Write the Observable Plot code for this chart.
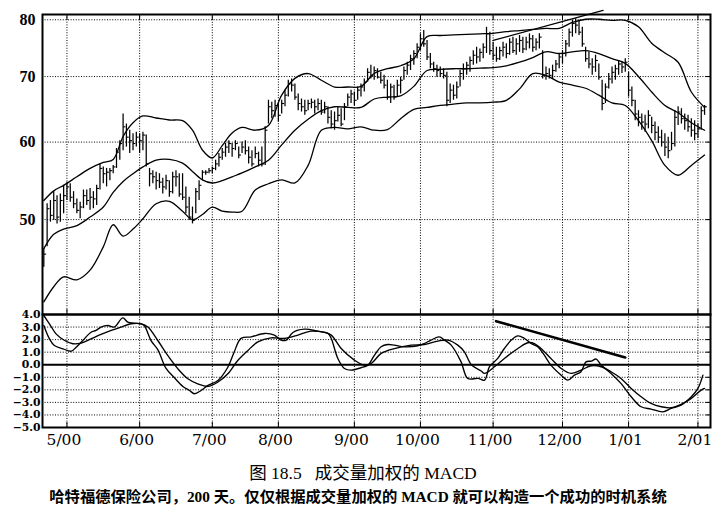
<!DOCTYPE html>
<html>
<head>
<meta charset="utf-8">
<script src="https://cdn.jsdelivr.net/npm/d3@7"></script>
<script src="https://cdn.jsdelivr.net/npm/@observablehq/plot@0.6"></script>
<style>
  html, body { margin: 0; padding: 0; background: #fff; }
  #wrap { position: relative; width: 722px; height: 516px; overflow: hidden; background: #fff; }
  #top, #bottom { position: absolute; left: 0; }
  #top { top: 0; }
  #bottom { top: 300px; }
  .cap { position: absolute; left: 0; width: 722px; text-align: center; white-space: pre; color: #000; }
  #cap1 { top: 463px; font: 17.5px "Liberation Serif", "Noto Sans CJK SC", serif; line-height: 21px; padding-left: 4px; box-sizing: border-box; }
  #cap2 { top: 487px; font: bold 15.3px "Liberation Serif", "Noto Sans CJK SC", serif; line-height: 20px; padding-right: 6px; box-sizing: border-box; }
</style>
</head>
<body>
<div id="wrap">
  <div id="top"></div>
  <div id="bottom"></div>
  <div class="cap" id="cap1">图 18.5   成交量加权的 MACD</div>
  <div class="cap" id="cap2">哈特福德保险公司，200 天。仅仅根据成交量加权的 MACD 就可以构造一个成功的时机系统</div>
</div>
<script>
// ---- axis ticks / labels ----
const monthIdx = [7, 29, 51, 71, 94, 114, 136, 157, 177, 198];
const monthLabels = ["5/00", "6/00", "7/00", "8/00", "9/00", "10/00", "11/00", "12/00", "1/01", "2/01"];
const priceTicks = [50, 60, 70, 80];
const macdTicks = [4, 3, 2, 1, 0, -1, -2, -3, -4, -5];

// ---- daily price bars (trading-day index 0..200) ----
const high = [
  46.7, 51.9, 52.3, 53.4, 52.9, 53.1, 54.2, 54.6, 54.4, 53.4,
  52.5, 52.1, 53.6, 53.6, 53.8, 53.4, 54.2, 57.0, 56.6, 56.4,
  56.4, 56.8, 59.1, 60.2, 64.1, 62.6, 61.7, 61.2, 61.4, 61.2,
  61.4, 61.0, 56.4, 56.1, 55.9, 55.7, 55.1, 55.5, 54.8, 55.9,
  56.1, 55.7, 55.7, 54.0, 52.7, 51.5, 53.8, 54.8, 56.1, 56.1,
  56.4, 56.6, 57.5, 58.4, 59.1, 59.8, 60.2, 59.8, 60.2, 59.3,
  60.0, 60.2, 59.3, 58.8, 59.3, 58.6, 59.3, 62.2, 66.2, 65.9,
  66.2, 65.7, 66.2, 67.8, 69.4, 69.6, 68.8, 67.2, 66.4, 66.2,
  66.2, 66.4, 66.2, 66.4, 66.2, 65.9, 65.2, 64.6, 64.4, 65.2,
  64.9, 65.7, 67.2, 67.8, 67.5, 68.3, 68.8, 69.6, 71.3, 71.9,
  71.6, 71.3, 70.7, 70.2, 69.4, 68.8, 68.6, 69.4, 69.9, 71.6,
  72.4, 73.6, 74.4, 75.6, 77.4, 78.0, 76.2, 73.9, 72.4, 71.9,
  71.6, 71.3, 70.7, 68.8, 68.6, 69.1, 71.0, 72.1, 72.4, 73.3,
  74.4, 75.0, 74.7, 75.6, 78.6, 77.7, 75.9, 75.0, 75.0, 75.9,
  75.6, 76.5, 76.8, 76.5, 77.1, 76.8, 76.8, 77.4, 77.1, 76.5,
  77.4, 74.4, 71.6, 71.3, 71.9, 72.7, 73.9, 74.4, 76.2, 78.3,
  79.9, 80.2, 79.9, 78.6, 75.0, 74.1, 73.0, 73.6, 72.1, 69.4,
  68.8, 70.5, 71.6, 71.9, 72.7, 72.4, 73.0, 70.7, 68.3, 66.2,
  64.6, 64.1, 63.9, 64.6, 63.6, 62.9, 62.2, 61.7, 61.2, 60.7,
  61.4, 64.6, 65.2, 64.9, 64.1, 63.9, 63.4, 63.1, 62.6, 65.2,
  65.4
];
const low = [
  44.7, 46.9, 49.7, 49.9, 49.5, 49.7, 50.7, 52.3, 52.1, 51.3,
  50.7, 50.1, 51.3, 51.7, 51.1, 51.3, 51.7, 53.6, 54.4, 54.0,
  54.8, 55.7, 56.4, 57.5, 58.8, 59.3, 58.4, 58.8, 59.3, 58.4,
  58.8, 56.6, 54.0, 54.4, 53.6, 53.8, 53.1, 53.6, 52.7, 53.1,
  54.0, 52.7, 52.3, 50.7, 49.9, 49.5, 50.7, 52.3, 54.8, 55.5,
  55.7, 55.7, 56.1, 56.6, 57.5, 57.9, 58.4, 57.9, 58.8, 57.7,
  58.4, 58.2, 57.0, 56.6, 57.7, 56.6, 56.6, 56.8, 62.6, 63.4,
  63.6, 62.9, 64.1, 65.2, 66.7, 67.5, 66.2, 64.6, 64.4, 63.9,
  64.6, 64.9, 64.1, 64.6, 63.9, 64.1, 62.6, 61.9, 61.7, 62.9,
  62.2, 63.1, 65.2, 65.7, 65.4, 66.2, 66.7, 67.5, 69.1, 69.6,
  69.4, 69.6, 68.8, 68.0, 66.2, 65.7, 66.2, 66.7, 67.2, 69.4,
  70.2, 71.0, 71.9, 73.0, 74.4, 75.0, 72.7, 71.3, 70.7, 69.9,
  69.9, 69.6, 65.2, 65.7, 66.2, 66.4, 68.3, 69.4, 70.2, 70.7,
  71.9, 72.1, 72.4, 73.0, 73.9, 73.6, 72.7, 72.4, 72.7, 73.3,
  73.0, 73.6, 73.9, 73.6, 74.1, 73.9, 74.4, 74.7, 74.1, 74.4,
  74.7, 69.6, 69.4, 69.6, 69.6, 70.7, 71.3, 72.1, 73.3, 75.0,
  76.8, 77.4, 77.1, 75.0, 72.4, 71.3, 70.2, 70.7, 69.4, 64.6,
  65.7, 68.0, 68.8, 69.4, 70.2, 70.5, 70.7, 66.7, 65.2, 63.1,
  62.2, 61.7, 61.4, 61.9, 61.2, 60.2, 59.8, 59.3, 58.0, 57.7,
  58.8, 59.3, 62.4, 62.6, 61.7, 61.4, 60.7, 60.2, 60.5, 61.7,
  63.9
];
const close = [
  46.1, 51.3, 50.5, 52.3, 50.3, 52.3, 52.9, 54.0, 52.7, 51.9,
  51.1, 51.5, 52.9, 52.3, 52.7, 52.5, 53.8, 56.4, 55.7, 55.9,
  56.1, 56.6, 58.6, 59.8, 62.2, 60.7, 60.2, 59.8, 60.7, 60.2,
  61.0, 57.0, 55.7, 55.3, 54.8, 54.6, 54.0, 54.8, 53.4, 55.3,
  55.3, 53.1, 52.7, 51.5, 50.3, 49.9, 53.4, 54.2, 55.9, 55.9,
  56.1, 56.4, 57.0, 57.9, 58.6, 59.3, 59.8, 59.1, 59.8, 58.2,
  59.3, 58.8, 57.9, 57.0, 58.4, 57.5, 57.0, 61.7, 65.2, 64.6,
  65.4, 63.9, 65.7, 67.0, 68.8, 68.6, 66.7, 65.7, 65.2, 64.6,
  65.7, 65.9, 65.2, 65.7, 64.4, 65.2, 63.6, 62.6, 63.1, 63.9,
  62.6, 65.2, 66.7, 67.2, 66.2, 67.8, 68.3, 69.1, 70.7, 70.2,
  71.0, 69.9, 69.4, 68.6, 66.7, 68.3, 66.7, 68.6, 69.4, 71.0,
  71.9, 73.0, 73.9, 75.0, 76.5, 75.6, 73.3, 72.1, 71.3, 71.0,
  70.5, 70.2, 66.2, 67.8, 67.0, 68.3, 70.5, 71.3, 71.9, 72.7,
  73.6, 73.3, 74.1, 75.0, 77.4, 74.4, 73.6, 73.0, 74.4, 75.0,
  73.9, 75.9, 74.4, 75.6, 76.2, 74.7, 75.9, 76.5, 75.0, 75.9,
  76.8, 70.2, 70.5, 70.2, 71.0, 72.1, 73.3, 73.9, 75.6, 77.7,
  79.3, 79.0, 77.7, 75.6, 73.0, 72.1, 71.6, 72.7, 69.9, 65.7,
  68.3, 69.6, 70.7, 71.3, 72.1, 71.6, 72.4, 67.8, 66.2, 64.1,
  63.6, 62.9, 62.6, 63.9, 62.4, 61.4, 60.7, 60.0, 59.3, 58.8,
  59.8, 63.6, 64.4, 63.4, 63.1, 62.2, 61.7, 61.2, 61.9, 64.6,
  65.2
];

// ---- bands (read every few days) ----
const bandIdx = [0, 3, 6, 10, 14, 18, 21, 24, 27, 30, 34, 38, 42, 45, 48, 51, 54, 57, 60, 64,
  68, 72, 76, 80, 84, 88, 92, 96, 100, 104, 108, 112, 116, 120, 124, 128, 132, 136, 140, 144,
  148, 152, 156, 160, 164, 168, 172, 176, 180, 184, 188, 192, 196, 200];
const upperBand = [52.3, 53.5, 54.2, 55.3, 56.4, 57.2, 57.6, 60.8, 62.8, 63.8, 63.5, 63.2, 63.1, 61.7, 58.9, 57.8, 59.5, 61.3, 62.1, 61.7,
  62.4, 67.0, 69.7, 70.5, 69.4, 68.3, 68.3, 68.4, 70.5, 71.3, 71.8, 73.0, 76.9, 77.1, 77.2, 77.3, 77.4, 77.5, 77.8, 78.0,
  78.2, 78.4, 78.4, 79.5, 80.1, 80.1, 79.9, 79.9, 78.7, 75.7, 74.0, 72.4, 67.5, 65.1];
const middleBand = [46.7, 48.3, 48.9, 49.3, 50.3, 51.5, 53.3, 54.7, 55.7, 56.6, 57.5, 57.6, 57.1, 56.0, 54.9, 54.5, 54.8, 55.3, 55.8, 56.6,
  57.5, 59.6, 61.7, 63.3, 64.6, 65.2, 65.1, 65.1, 66.4, 66.7, 66.9, 68.4, 71.0, 71.2, 71.3, 71.3, 71.4, 71.5, 71.8, 72.4,
  73.2, 74.2, 73.9, 74.2, 74.4, 73.9, 73.0, 72.2, 70.0, 67.5, 65.4, 64.3, 62.8, 61.7];
const lowerBand = [41.2, 42.7, 43.7, 43.4, 44.4, 46.9, 49.4, 48.1, 48.9, 50.1, 51.9, 52.2, 51.0, 50.0, 50.6, 51.5, 51.0, 50.9, 51.0, 53.6,
  54.4, 54.9, 54.5, 56.8, 61.7, 62.1, 61.9, 62.2, 61.7, 61.8, 63.4, 64.8, 65.1, 65.4, 65.6, 65.8, 65.8, 65.9, 66.2, 68.0,
  70.5, 70.2, 69.1, 68.6, 68.1, 67.0, 65.8, 65.4, 63.1, 60.2, 56.8, 55.5, 56.8, 58.2];

// ---- price trendline ----
const priceTrendIdx = [136, 169.3];
const priceTrendVal = [76.2, 81.8];

// ---- volume-weighted MACD ----
const macdIdx = [0, 1.7, 3.2, 5.8, 8.3, 9.8, 11.8, 14.3, 15.8, 17.3, 19.4, 21.3, 23.9, 25.4, 27.3, 29.5, 30.4, 32.5, 34.5, 37,
  39.4, 42.1, 44.1, 45.6, 47.6, 49.7, 52.7, 55.7, 57.6, 59.7, 62.8, 66.8, 69.8, 71.8, 73.4, 75.4, 78.9, 82.9, 86, 87,
  89, 91, 93, 96, 98.1, 100.1, 102.1, 104.1, 106.1, 109.2, 113.2, 115.2, 117.2, 119.7, 121.3, 123.3, 126.3, 128.3, 131.4, 133.4,
  134.9, 137.4, 139.4, 141.5, 143.5, 145.5, 147.5, 149.5, 151.5, 153.5, 156.6, 158.6, 160.6, 162.6, 164.1, 165.7, 167.2, 168.7, 171.7, 174.7,
  177.8, 180.8, 183.8, 187.4, 189.9, 192.9, 196, 198, 199.5];
const macdVal = [3.12, 2.06, 1.53, 1.27, 1.08, 1.40, 1.93, 2.59, 2.73, 3.0, 3.12, 3.0, 3.73, 3.39, 3.31, 3.26, 3.12, 1.9, 1.2, -0.3,
  -1.0, -1.73, -2.05, -2.31, -2.05, -1.65, -1.25, -0.2, 1.0, 2.1, 2.22, 2.49, 2.36, 1.96, 1.96, 2.57, 2.83, 2.67, 2.49, 2.09,
  0.50, -0.30, -0.43, -0.24, -0.03, 0.76, 1.43, 1.61, 1.56, 1.43, 1.51, 1.69, 1.96, 2.22, 1.96, 1.56, 0.23, -1.09, -1.09, -1.23,
  -0.16, 0.50, 1.29, 1.96, 2.30, 2.09, 1.69, 1.43, 0.76, -0.03, -0.83, -1.23, -0.83, -0.56, 0.23, 0.29, 0.45, -0.03, -0.69, -1.49,
  -2.55, -3.35, -3.53, -3.75, -3.48, -3.22, -2.55, -1.89, -0.83];
const signalIdx = [0, 1.7, 3.7, 6.3, 8.8, 11.3, 14.3, 17.3, 20.4, 23.4, 26.4, 29.5, 31.5, 34.5, 37.5, 40.6, 43.6, 46.6, 49.7, 52.7,
  55.7, 58.7, 61.8, 64.8, 68.8, 72.8, 76.9, 80.9, 84.9, 87, 90, 94, 97, 99.1, 102.1, 106.1, 111.2, 115.2, 119.3, 122.3,
  125.3, 127.3, 129.4, 132.4, 133.4, 136.4, 139.4, 143.5, 146.5, 148.5, 150.5, 153.5, 156.6, 159.6, 162.6, 165.7, 168.7, 171.7, 174.7, 177.8,
  180.8, 183.8, 186.9, 189.9, 192.9, 196, 199, 200];
const signalVal = [3.92, 3.26, 2.46, 1.93, 1.67, 1.72, 2.06, 2.41, 2.73, 3.0, 3.26, 3.26, 3.0, 1.93, 0.74, -0.33, -1.12, -1.52, -1.73, -1.38,
  -0.72, 0.34, 1.14, 1.82, 2.14, 2.09, 2.36, 2.67, 2.57, 2.36, 1.29, 0.37, -0.03, 0.10, 0.90, 1.29, 1.56, 1.61, 1.88, 1.96,
  1.56, 1.03, 0.0, -0.5, -0.69, -0.16, 0.50, 1.29, 1.75, 1.69, 1.29, 0.50, -0.30, -0.69, -0.43, -0.08, -0.16, -0.56, -1.09, -1.89,
  -2.55, -3.08, -3.35, -3.43, -3.16, -2.68, -2.02, -1.89];
const macdTrendIdx = [136.9, 176];
const macdTrendVal = [3.47, 0.58];

// ---- build tables ----
const bars = close.map((c, i) => ({i, high: high[i], low: low[i], close: c}));
const rows = (xs, ys) => xs.map((x, k) => ({x, y: ys[k]}));
const upperRows = rows(bandIdx, upperBand);
const middleRows = rows(bandIdx, middleBand);
const lowerRows = rows(bandIdx, lowerBand);
const pTrend = rows(priceTrendIdx, priceTrendVal);
const macdRows = rows(macdIdx, macdVal);
const signalRows = rows(signalIdx, signalVal);
const mTrend = rows(macdTrendIdx, macdTrendVal);

const xDomain = [-0.4, 201.8];
const serif = "'Liberation Serif', 'Times New Roman', serif";
const wideSerif = "'DejaVu Serif', 'Liberation Serif', serif";
const dotted = {stroke: "#000", strokeOpacity: 1, strokeWidth: 1, strokeDasharray: "1,1.6"};
const styleObj = {background: "transparent", overflow: "visible", color: "#000"};

const topChart = Plot.plot({
  width: 722, height: 314,
  marginLeft: 42, marginRight: 12, marginTop: 14, marginBottom: 0,
  style: styleObj,
  x: {domain: xDomain, label: null},
  y: {type: "log", domain: [40, 81], label: null},
  marks: [
    Plot.gridX(monthIdx, dotted),
    Plot.gridY(priceTicks, dotted),
    Plot.ruleX(bars, {x: "i", y1: "low", y2: "high", stroke: "#000", strokeWidth: 1.25}),
    Plot.link(bars, {x1: "i", x2: d => d.i + 0.7, y1: "close", y2: "close", stroke: "#000", strokeWidth: 1.1}),
    Plot.line(upperRows, {x: "x", y: "y", curve: "catmull-rom", stroke: "#000", strokeWidth: 1.3}),
    Plot.line(middleRows, {x: "x", y: "y", curve: "catmull-rom", stroke: "#000", strokeWidth: 1.3}),
    Plot.line(lowerRows, {x: "x", y: "y", curve: "catmull-rom", stroke: "#000", strokeWidth: 1.3}),
    Plot.line(pTrend, {x: "x", y: "y", stroke: "#000", strokeWidth: 1.3}),
    Plot.frame({stroke: "#000", strokeWidth: 2}),
    Plot.axisX(monthIdx, {anchor: "top", tickSize: -5, tickFormat: () => "", label: null}),
    Plot.axisX(monthIdx, {anchor: "bottom", tickSize: -5, tickFormat: () => "", label: null}),
    Plot.axisY(priceTicks, {anchor: "left", tickSize: 0, tickPadding: 7, tickFormat: d => String(d),
      fontSize: 16, fontFamily: serif, fontWeight: "bold", label: null}),
    Plot.axisY(priceTicks, {anchor: "right", tickSize: -5, tickFormat: () => "", label: null})
  ]
});
document.getElementById("top").appendChild(topChart);

const bottomChart = Plot.plot({
  width: 722, height: 160,
  marginLeft: 42, marginRight: 12, marginTop: 14, marginBottom: 33,
  style: styleObj,
  x: {domain: xDomain, label: null},
  y: {domain: [-5, 4], label: null},
  marks: [
    Plot.gridX(monthIdx, dotted),
    Plot.gridY(macdTicks.filter(v => v !== 0 && v !== 4 && v !== -5), dotted),
    Plot.ruleY([0], {stroke: "#000", strokeWidth: 2}),
    Plot.line(macdRows, {x: "x", y: "y", curve: "catmull-rom", stroke: "#000", strokeWidth: 1.35}),
    Plot.line(signalRows, {x: "x", y: "y", curve: "catmull-rom", stroke: "#000", strokeWidth: 1.35}),
    Plot.line(mTrend, {x: "x", y: "y", stroke: "#000", strokeWidth: 2.6}),
    Plot.frame({stroke: "#000", strokeWidth: 2}),
    Plot.axisX(monthIdx, {anchor: "bottom", tickSize: -5, tickFormat: () => "", label: null}),
    Plot.axisY(macdTicks, {anchor: "right", tickSize: -5, tickFormat: () => "", label: null}),
    Plot.axisX(monthIdx, {anchor: "bottom", tickSize: 0, tickPadding: 6, dx: -3,
      tickFormat: d => monthLabels[monthIdx.indexOf(d)], fontSize: 15.5, fontFamily: wideSerif, label: null}),
    Plot.axisY(macdTicks, {anchor: "left", tickSize: 0, tickPadding: 2, tickFormat: d3.format(".1f"),
      fontSize: 10.8, fontFamily: wideSerif, fontWeight: "bold", label: null})
  ]
});
document.getElementById("bottom").appendChild(bottomChart);
</script>
</body>
</html>
